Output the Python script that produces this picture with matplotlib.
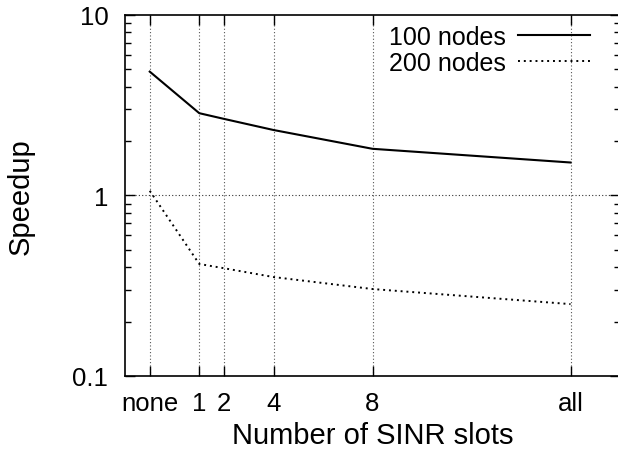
import numpy as np
import matplotlib
matplotlib.use("Agg")
import matplotlib.pyplot as plt
from matplotlib.ticker import LogLocator, NullFormatter

plt.rcParams['font.family'] = ['Liberation Sans', 'DejaVu Sans']

# Datos
slot_labels = ["none", "1", "2", "4", "8", "all"]
slot_pos = [-1, 1, 2, 4, 8, 16]
speedup_100 = [4.84, 2.85, 2.65, 2.30, 1.81, 1.52]
speedup_200 = [1.06, 0.417, 0.395, 0.353, 0.303, 0.25]

W, H = 618, 456
fig = plt.figure(figsize=(W / 100, H / 100), dpi=100)
ax = fig.add_axes([125 / W, 1 - 377 / H, (620 - 125) / W, (377 - 15.7) / H])

ax.plot(slot_pos, speedup_100, color='black', linewidth=1.5, label='100 nodes')
ax.plot(slot_pos, speedup_200, color='black', linewidth=1.4,
        linestyle=(0, (1, 2)), label='200 nodes')

ax.set_yscale('log')
ax.set_ylim(0.1, 10)
ax.set_xlim(-2, 18)

ax.set_xticks(slot_pos)
ax.set_xticklabels(slot_labels)
ax.set_yticks([0.1, 1, 10])
ax.set_yticklabels(["0.1", "1", "10"])
ax.yaxis.set_minor_locator(LogLocator(base=10, subs=np.arange(2, 10)))
ax.yaxis.set_minor_formatter(NullFormatter())

ax.tick_params(which='both', direction='in', top=True, right=True, labelsize=18.5)
ax.tick_params(which='major', length=7, width=1)
ax.tick_params(which='minor', length=4, width=1)
ax.tick_params(axis='x', which='minor', top=False, bottom=False)
ax.tick_params(axis='x', pad=11)
ax.tick_params(axis='y', pad=12)

# rejilla punteada
for x in slot_pos:
    ax.axvline(x, color='#555555', linestyle=(0, (1, 2)), linewidth=0.8, zorder=0)
ax.axhline(1, color='#333333', linestyle=(0, (1, 2)), linewidth=0.8, zorder=0)

for s in ax.spines.values():
    s.set_linewidth(1.2)

ax.set_xlabel("Number of SINR slots", fontsize=21, labelpad=4)
ax.set_ylabel("Speedup", fontsize=21, labelpad=27)

leg = ax.legend(loc='upper right', bbox_to_anchor=((595 - 125) / 495, 1.0 - 5 / 361),
                markerfirst=False, frameon=False, fontsize=18, handlelength=2.9,
                handletextpad=0.45, labelspacing=0.1, borderaxespad=0.0,
                borderpad=0.2)
for t in leg.get_texts():
    t.set_ha('right')

fig.savefig("out.png", dpi=100)
